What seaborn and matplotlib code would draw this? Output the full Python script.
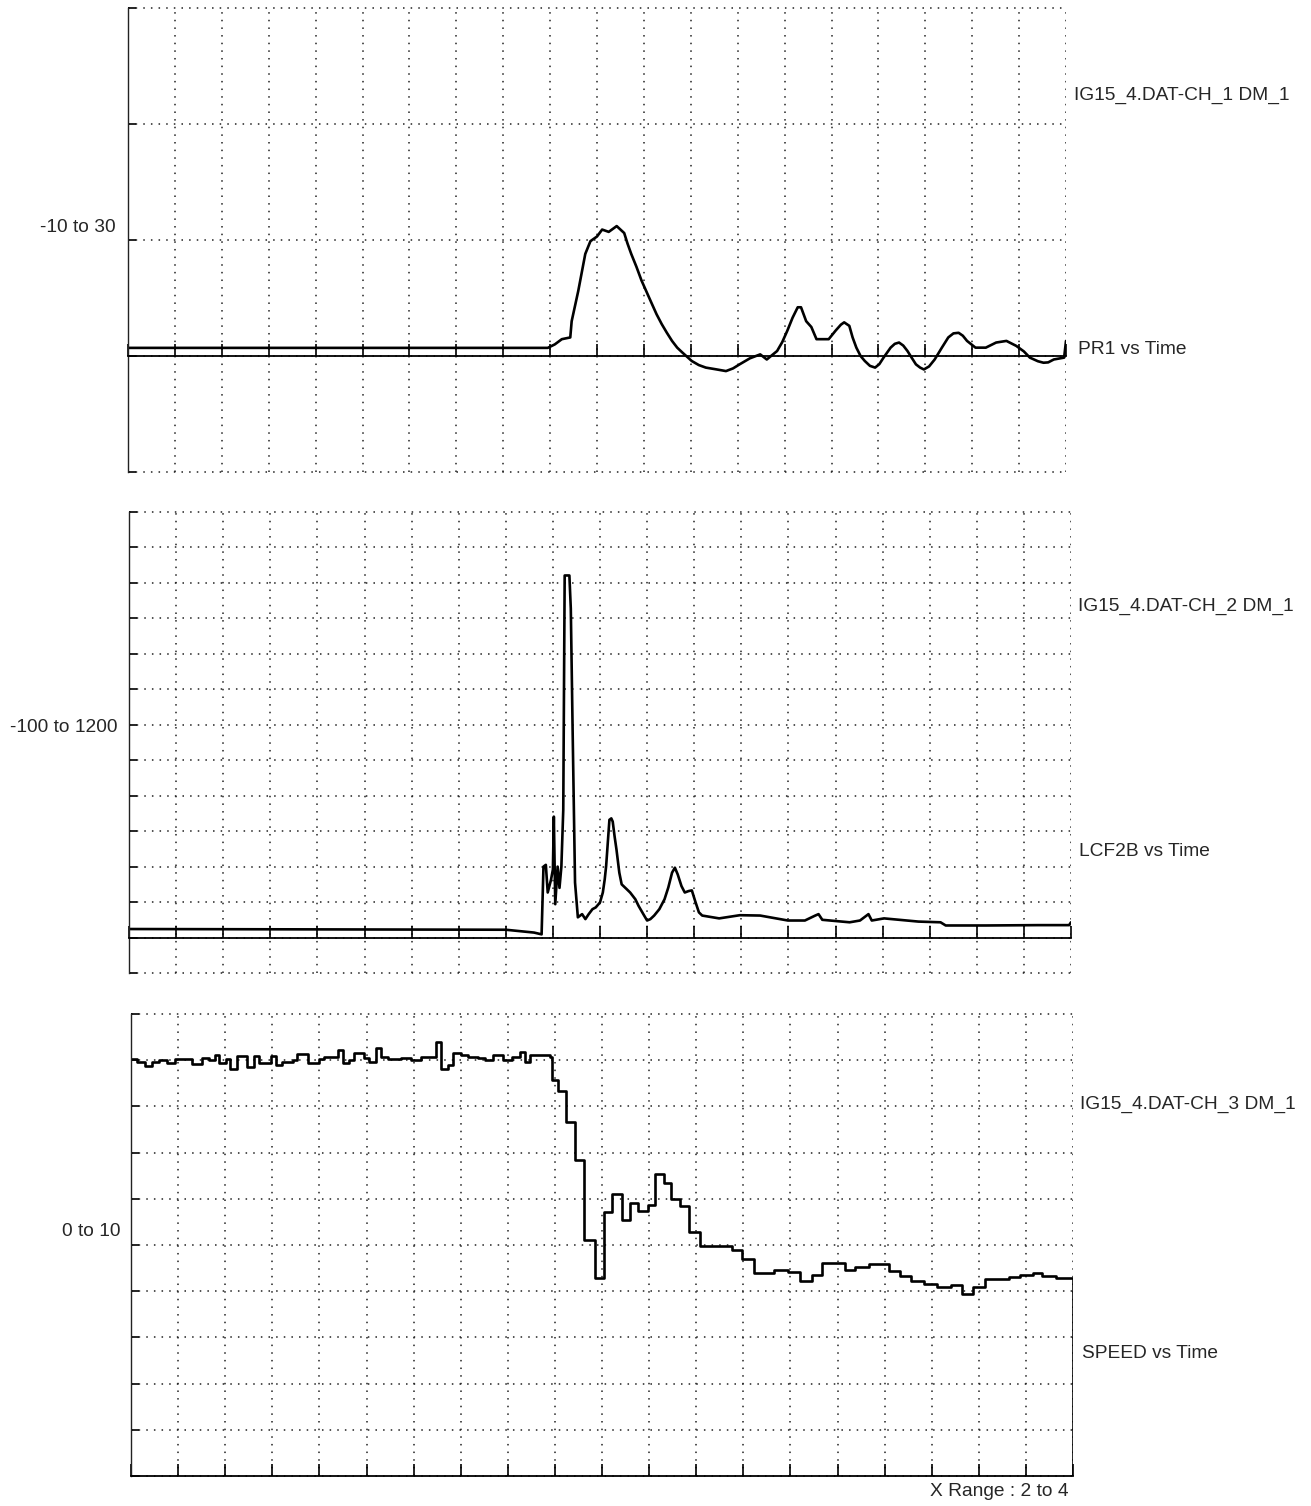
import numpy as np
import matplotlib
matplotlib.use("Agg")
import matplotlib.pyplot as plt
import seaborn as sns

# PR1 (channel 1), range -10 to 30
pr1_t = [2.0, 2.895, 2.91, 2.925, 2.943, 2.946, 2.96, 2.975, 2.986, 3.0,
         3.011, 3.025, 3.042, 3.058, 3.065, 3.073, 3.084, 3.095, 3.106, 3.117,
         3.127, 3.138, 3.149, 3.16, 3.171, 3.182, 3.193, 3.202, 3.217, 3.232,
         3.254, 3.275, 3.29, 3.304, 3.326, 3.348, 3.362, 3.384, 3.395, 3.406,
         3.417, 3.428, 3.435, 3.446, 3.457, 3.468, 3.494, 3.509, 3.52, 3.527,
         3.538, 3.545, 3.553, 3.562, 3.571, 3.582, 3.593, 3.602, 3.611, 3.626,
         3.635, 3.644, 3.653, 3.662, 3.671, 3.68, 3.689, 3.697, 3.708, 3.72,
         3.735, 3.749, 3.76, 3.771, 3.78, 3.789, 3.807, 3.829, 3.851, 3.873,
         3.894, 3.91, 3.923, 3.94, 3.952, 3.962, 3.974, 3.996, 4.0]
pr1_v = [0.7, 0.7, 1.0, 1.45, 1.6, 3.0, 5.6, 8.8, 9.9, 10.3,
         10.9, 10.7, 11.2, 10.6, 9.7, 8.8, 7.7, 6.5, 5.5, 4.5,
         3.6, 2.75, 2.0, 1.3, 0.72, 0.3, -0.1, -0.43, -0.78, -1.0,
         -1.15, -1.3, -1.07, -0.72, -0.2, 0.14, -0.3, 0.43, 1.2, 2.2,
         3.3, 4.2, 4.2, 3.0, 2.5, 1.45, 1.45, 2.2, 2.7, 2.9,
         2.6, 1.6, 0.72, 0.0, -0.43, -0.85, -1.0, -0.7, -0.14, 0.72,
         1.05, 1.16, 0.9, 0.43, -0.15, -0.72, -1.0, -1.16, -0.9, -0.3,
         0.7, 1.6, 1.95, 2.0, 1.75, 1.3, 0.72, 0.72, 1.16, 1.3,
         0.87, 0.4, -0.14, -0.45, -0.58, -0.55, -0.3, -0.14, 1.3]

# LCF2B (channel 2), range -100 to 1200
lcf_t = [2.0, 2.8, 2.86, 2.876, 2.88, 2.885, 2.889, 2.896, 2.9, 2.902,
         2.905, 2.91, 2.914, 2.918, 2.922, 2.925, 2.935, 2.938, 2.942, 2.947,
         2.953, 2.958, 2.962, 2.966, 2.969, 2.976, 2.984, 2.991, 3.0, 3.006,
         3.01, 3.013, 3.017, 3.02, 3.024, 3.027, 3.031, 3.035, 3.041, 3.046,
         3.057, 3.064, 3.075, 3.082, 3.092, 3.1, 3.107, 3.115, 3.126, 3.137,
         3.145, 3.153, 3.159, 3.165, 3.173, 3.18, 3.188, 3.195, 3.202, 3.21,
         3.217, 3.253, 3.297, 3.34, 3.399, 3.435, 3.457, 3.464, 3.472, 3.53,
         3.552, 3.57, 3.577, 3.603, 3.676, 3.723, 3.734, 3.82, 3.93, 3.996,
         4.0]
lcf_v = [24, 22, 14, 9, 200, 205, 127, 163, 192, 341,
         94, 200, 140, 200, 360, 1021, 1021, 928, 574, 155,
         57, 62, 66, 58, 52, 66, 80, 85, 99, 127,
         164, 201, 276, 332, 336, 327, 285, 248, 183, 150,
         136, 127, 108, 89, 66, 48, 52, 62, 80, 108,
         141, 183, 197, 178, 145, 127, 131, 133, 103, 71,
         62, 54, 63, 62, 48, 48, 62, 66, 50, 43,
         48, 66, 48, 54, 45, 43, 34, 34, 35, 35,
         43]

# SPEED (channel 3), range 0 to 10, sampled steps
speed_t = [2.0, 2.013, 2.03, 2.045, 2.059, 2.077, 2.094, 2.13, 2.151, 2.165,
           2.179, 2.187, 2.201, 2.211, 2.226, 2.247, 2.261, 2.272, 2.297, 2.307,
           2.321, 2.343, 2.353, 2.375, 2.4, 2.41, 2.439, 2.451, 2.463, 2.474,
           2.495, 2.506, 2.52, 2.531, 2.545, 2.573, 2.595, 2.616, 2.648, 2.659,
           2.673, 2.683, 2.701, 2.715, 2.737, 2.751, 2.769, 2.79, 2.808, 2.825,
           2.836, 2.847, 2.889,
           2.894, 2.906, 2.924, 2.942, 2.962, 2.985, 3.004, 3.022, 3.042, 3.059,
           3.076, 3.097, 3.113, 3.131, 3.147, 3.166, 3.185, 3.209, 3.275, 3.297,
           3.322, 3.366, 3.395, 3.42, 3.446, 3.468, 3.515, 3.537, 3.566, 3.61,
           3.632, 3.656, 3.683, 3.712, 3.741, 3.765, 3.788, 3.814, 3.865, 3.887,
           3.916, 3.934, 3.963, 4.0]
speed_v = [9.02, 8.97, 8.88, 8.97, 9.0, 8.93, 9.02, 8.92, 9.04, 9.0,
           9.11, 8.93, 9.02, 8.82, 9.09, 8.86, 9.09, 8.93, 9.09, 8.9,
           8.97, 9.0, 9.13, 8.93, 9.02, 9.06, 9.23, 8.93, 9.0, 9.15,
           9.04, 8.97, 9.26, 9.08, 9.02, 9.04, 9.0, 9.06, 9.4, 8.82,
           8.9, 9.16, 9.11, 9.08, 9.04, 9.0, 9.11, 9.0, 9.08, 9.17,
           8.97, 9.11, 9.08,
           8.57, 8.34, 7.66, 6.83, 5.11, 4.28, 5.71, 6.11, 5.55, 5.91,
           5.73, 5.86, 6.53, 6.35, 5.99, 5.84, 5.29, 4.97, 4.9, 4.69,
           4.4, 4.45, 4.41, 4.21, 4.34, 4.61, 4.45, 4.53, 4.58, 4.43,
           4.32, 4.21, 4.16, 4.1, 4.14, 3.94, 4.09, 4.27, 4.3, 4.35,
           4.39, 4.32, 4.29, 0.0]

ranges = [(-10, 30, 10), (-100, 1200, 100), (0, 10, 1)]
range_labels = ["-10 to 30", "-100 to 1200", "0 to 10"]
file_labels = ["IG15_4.DAT-CH_1 DM_1", "IG15_4.DAT-CH_2 DM_1", "IG15_4.DAT-CH_3 DM_1"]
series_labels = ["PR1 vs Time", "LCF2B vs Time", "SPEED vs Time"]

sns.set_style("white")
plt.rcParams['font.family'] = ['Liberation Sans', 'DejaVu Sans']

W, H = 1311, 1506
fig = plt.figure(figsize=(W / 100, H / 100), dpi=100)

# panel boxes in pixels: left, right, top, bottom
boxes = [(128, 1066, 8, 472), (129, 1071, 512, 973), (131, 1073, 1014, 1476)]
dots = (0, (1, 4))

axes = []
for (l, r, t, b) in boxes:
    ax = fig.add_axes([l / W, 1 - b / H, (r - l) / W, (b - t) / H])
    axes.append(ax)

for ax, (lo, hi, step) in zip(axes, ranges):
    ax.set_xlim(2, 4)
    ax.set_ylim(lo, hi)
    ax.set_xticks(np.linspace(2, 4, 21))
    ax.set_yticks(np.arange(lo, hi + step / 2, step))
    ax.grid(True, color='#222222', linestyle=dots, linewidth=1.1)
    for gl in ax.get_xgridlines() + ax.get_ygridlines():
        gl.set_clip_on(False)
    for s in ['top', 'right']:
        ax.spines[s].set_visible(False)
    ax.spines['left'].set_color('#222222')
    ax.spines['left'].set_linewidth(1.0)
    # zero line carries the x ticks
    ax.spines['bottom'].set_position(('data', 0))
    ax.spines['bottom'].set_color('black')
    ax.spines['bottom'].set_linewidth(1.3)
    ax.tick_params(axis='x', direction='in', length=8.5, width=1.2, color='black',
                   labelbottom=False, bottom=True)
    ax.tick_params(axis='y', direction='in', length=5.5, width=1.2, color='black',
                   labelleft=False, left=True)

sns.lineplot(x=pr1_t, y=pr1_v, ax=axes[0], color='black', linewidth=1.9,
             estimator=None, sort=False)
sns.lineplot(x=lcf_t, y=lcf_v, ax=axes[1], color='black', linewidth=1.9,
             estimator=None, sort=False)
sns.lineplot(x=speed_t, y=speed_v, ax=axes[2], color='black', linewidth=1.9,
             estimator=None, sort=False, drawstyle='steps-post')

for ax in axes:
    ax.set_xlabel("")
    ax.set_ylabel("")

fs = 13.8
left_pos = [(116, 228), (118, 728), (120, 1231)]
file_pos = [(1074, 95), (1078, 606), (1080, 1104)]
series_pos = [(1078, 349), (1079, 851), (1082, 1353)]
for i in range(3):
    fig.text(left_pos[i][0] / W, 1 - left_pos[i][1] / H, range_labels[i],
             ha='right', va='center', fontsize=fs)
    fig.text(file_pos[i][0] / W, 1 - file_pos[i][1] / H, file_labels[i],
             ha='left', va='center', fontsize=fs)
    fig.text(series_pos[i][0] / W, 1 - series_pos[i][1] / H, series_labels[i],
             ha='left', va='center', fontsize=fs)

fig.text(1068 / W, 1 - 1492 / H, "X Range : 2 to 4", ha='right', va='center', fontsize=fs)

fig.savefig("out.png", dpi=100, facecolor='white')
